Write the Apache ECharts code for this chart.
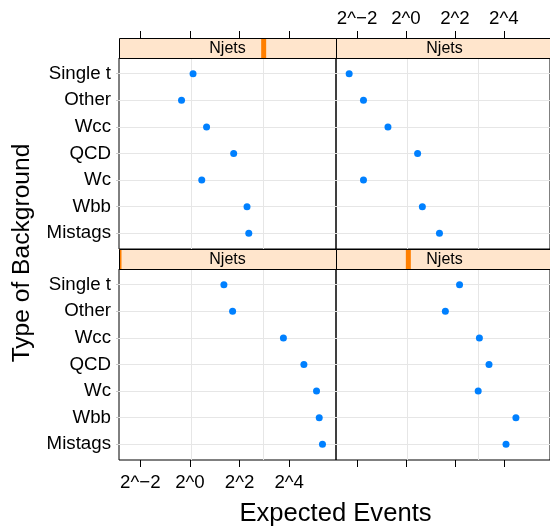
<!DOCTYPE html>
<html>
<head>
<meta charset="utf-8">
<script src="https://cdn.jsdelivr.net/npm/echarts@6/dist/echarts.min.js"></script>
<style>
  html, body { margin: 0; padding: 0; background: #fff; }
  #main { width: 550px; height: 527px; }
</style>
</head>
<body>
<div id="main"></div>
<script>
const categories = ['Single t', 'Other', 'Wcc', 'QCD', 'Wc', 'Wbb', 'Mistags']
const njetsLevels = [1, 2, 3, 4]
const eventsNjets1 = [2.58, 3.29, 13.6, 24.1, 34.3, 37.0, 40.5]
const eventsNjets2 = [4.56, 3.05, 8.0, 10.5, 7.73, 22.5, 17.0]
const eventsNjets3 = [1.09, 0.79, 1.59, 3.39, 1.39, 4.92, 5.17]
const eventsNjets4 = [0.20, 0.30, 0.60, 1.39, 0.30, 1.59, 2.58]
const xTickPowers = [-2, 0, 2, 4]
const xGridPowers = [0.04, 2.96]

const font = 'Liberation Sans, Arial, Helvetica, sans-serif'
const xMin = -2.86
const xMax = 5.885
const panelW = 217
const panelH = 191
const stripH = 20
const colLeft = [119, 336]
const rowTop = [58, 269]

// lattice fills panels from bottom-left
const panels = [
  { level: 1, values: eventsNjets1, col: 0, row: 1, ticks: 'bottom', labels: true },
  { level: 2, values: eventsNjets2, col: 1, row: 1, ticks: 'bottom', labels: false },
  { level: 3, values: eventsNjets3, col: 0, row: 0, ticks: 'top', labels: false },
  { level: 4, values: eventsNjets4, col: 1, row: 0, ticks: 'top', labels: true }
]

const powLabel = (v) => '2^' + (v < 0 ? '\u2212' + (-v) : v)

const chartInstance = echarts.init(document.getElementById('main'), null, { renderer: 'canvas' })

const grid = []
const xAxis = []
const yAxis = []
const series = []
const graphic = []

panels.forEach((p, i) => {
  const left = colLeft[p.col]
  const top = rowTop[p.row]
  grid.push({
    left: left,
    top: top,
    width: panelW,
    height: panelH,
    show: true,
    borderColor: '#000',
    borderWidth: 1,
    backgroundColor: 'transparent'
  })
  // axis with ticks and labels, sits outside the strip on top
  xAxis.push({
    type: 'value',
    gridIndex: i,
    min: xMin,
    max: xMax,
    position: p.ticks,
    offset: p.ticks === 'top' ? stripH : 0,
    axisLine: { show: false, onZero: false },
    axisTick: { show: true, length: 7, inside: false, customValues: xTickPowers, lineStyle: { color: '#000' } },
    axisLabel: {
      show: p.labels,
      customValues: xTickPowers,
      formatter: powLabel,
      color: '#000',
      fontSize: 18.7,
      fontFamily: font,
      margin: p.ticks === 'top' ? 10 : 13
    },
    splitLine: { show: false }
  })
  // axis only for the vertical reference lines
  xAxis.push({
    type: 'value',
    gridIndex: i,
    min: xMin,
    max: xMax,
    position: p.ticks,
    axisLine: { show: false, onZero: false },
    axisTick: { show: false, customValues: xGridPowers },
    axisLabel: { show: false },
    splitLine: { show: true, lineStyle: { color: '#e6e6e6', width: 1 } }
  })
  yAxis.push({
    type: 'value',
    gridIndex: i,
    inverse: true,
    min: -0.59,
    max: 6.59,
    axisLine: { show: false, onZero: false },
    axisTick: {
      show: p.col === 0,
      length: 3,
      customValues: categories.map((c, k) => k),
      lineStyle: { color: '#cccccc' }
    },
    axisLabel: {
      show: p.col === 0,
      customValues: categories.map((c, k) => k),
      formatter: (v) => categories[Math.round(v)] || '',
      color: '#000',
      fontSize: 18.7,
      fontFamily: font,
      margin: 8
    },
    splitLine: { show: true, lineStyle: { color: '#e6e6e6', width: 1 } }
  })
  series.push({
    type: 'scatter',
    xAxisIndex: i * 2,
    yAxisIndex: i,
    symbol: 'circle',
    symbolSize: 7,
    itemStyle: { color: '#0080ff', opacity: 1 },
    silent: true,
    data: p.values.map((v, k) => [Math.log2(v), k])
  })

  // strip
  const sy = top - stripH
  const frac = (p.level - 1) / (njetsLevels.length - 1)
  let mx = left + frac * panelW - 2.5
  let mw = 5
  if (mx < left) { mw -= left - mx; mx = left }
  if (mx + mw > left + panelW) { mw = left + panelW - mx }
  graphic.push({
    type: 'rect',
    shape: { x: left, y: sy, width: panelW, height: stripH },
    style: { fill: '#ffe5cc', stroke: null },
    z: 10
  })
  if (mw > 0) {
    graphic.push({
      type: 'rect',
      shape: { x: mx, y: sy, width: mw, height: stripH },
      style: { fill: '#ff7f00' },
      z: 11
    })
  }
  graphic.push({
    type: 'rect',
    shape: { x: left + 0.5, y: sy + 0.5, width: panelW, height: stripH },
    style: { fill: null, stroke: '#000', lineWidth: 1 },
    z: 12
  })
  graphic.push({
    type: 'text',
    x: left + panelW / 2,
    y: sy + stripH / 2 + 1,
    style: {
      text: 'Njets',
      fill: '#000',
      fontSize: 16,
      fontFamily: font,
      align: 'center',
      verticalAlign: 'middle'
    },
    z: 13
  })
})

graphic.push({
  type: 'text',
  x: 22,
  y: 253,
  rotation: Math.PI / 2,
  style: {
    text: 'Type of Background',
    fill: '#000',
    fontSize: 24.6,
    fontFamily: font,
    align: 'center',
    verticalAlign: 'middle'
  }
})
graphic.push({
  type: 'text',
  x: 335.5,
  y: 514,
  style: {
    text: 'Expected Events',
    fill: '#000',
    fontSize: 25.6,
    fontFamily: font,
    align: 'center',
    verticalAlign: 'middle'
  }
})

chartInstance.setOption({
  animation: false,
  backgroundColor: '#fff',
  grid: grid,
  xAxis: xAxis,
  yAxis: yAxis,
  series: series,
  graphic: graphic
})
</script>
</body>
</html>
